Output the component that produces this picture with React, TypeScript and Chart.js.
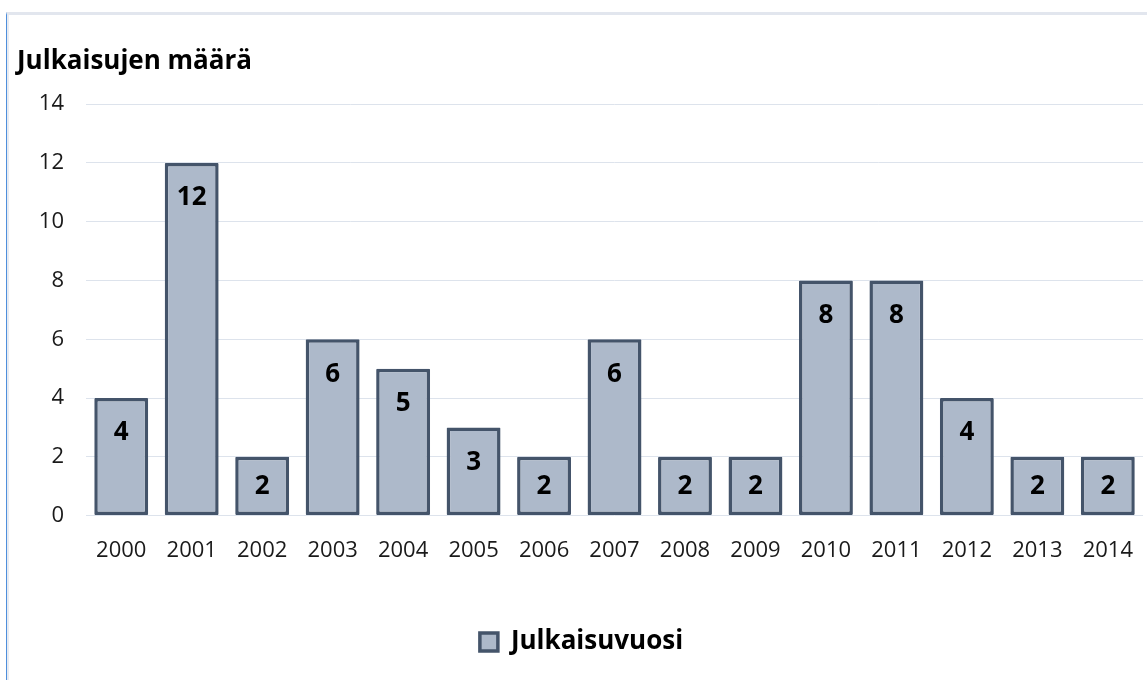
import React, { useEffect, useRef } from "react";
import { Chart, registerables } from "chart.js";

Chart.register(...registerables);

const years: string[] = ["2000", "2001", "2002", "2003", "2004", "2005", "2006", "2007", "2008", "2009", "2010", "2011", "2012", "2013", "2014"];
const publications: number[] = [4, 12, 2, 6, 5, 3, 2, 6, 2, 2, 8, 8, 4, 2, 2];
const yMin = 0;
const yMax = 14;
const yStep = 2;
const seriesName = "Julkaisuvuosi";
const chartTitle = "Julkaisujen määrä";

const FONT = "'Open Sans', 'Noto Sans', sans-serif";

const labelPlugin = {
  id: "insideEndLabels",
  afterDatasetsDraw(chart: any) {
    const ctx = chart.ctx;
    const meta = chart.getDatasetMeta(0);
    const data = chart.data.datasets[0].data as number[];
    ctx.save();
    ctx.font = `bold 26px ${FONT}`;
    ctx.fillStyle = "#000000";
    ctx.textAlign = "center";
    ctx.textBaseline = "middle";
    meta.data.forEach((el: any, i: number) => {
      const h = el.base - el.y;
      const cy = el.y + Math.min(34, h / 2);
      ctx.fillText(String(data[i]), el.x, cy + 1);
    });
    ctx.restore();
  },
};

export default function App() {
  const ref = useRef<HTMLCanvasElement | null>(null);

  useEffect(() => {
    if (!ref.current) return;
    const chart = new Chart(ref.current, {
      type: "bar",
      data: {
        labels: years,
        datasets: [
          {
            label: seriesName,
            data: publications,
            backgroundColor: "#ADB9CA",
            borderColor: "#44546A",
            borderWidth: 3.5,
            borderSkipped: false,
            borderRadius: 1,
            categoryPercentage: 1,
            barPercentage: 0.765,
          },
        ],
      },
      options: {
        animation: false,
        responsive: false,
        devicePixelRatio: 1,
        layout: { padding: { top: 15, left: 17, right: 1, bottom: 15 } },
        plugins: {
          title: {
            display: true,
            text: chartTitle,
            align: "start",
            color: "#000000",
            font: { family: FONT, size: 26, weight: "bold" },
            padding: { top: 31, bottom: 27 },
          },
          legend: {
            display: true,
            position: "bottom",
            labels: {
              color: "#000000",
              boxWidth: 18,
              boxHeight: 18,
              padding: 51,
              font: { family: FONT, size: 26, weight: "bold" },
            },
          },
          tooltip: { enabled: false },
        },
        scales: {
          x: {
            grid: { display: false },
            border: { display: false },
            ticks: {
              color: "#1a1a1a",
              font: { family: FONT, size: 22 },
              padding: 14,
              maxRotation: 0,
              autoSkip: false,
            },
          },
          y: {
            min: yMin,
            max: yMax,
            grid: { color: "#dde3ec", lineWidth: 1, drawTicks: false },
            border: { display: false },
            ticks: {
              stepSize: yStep,
              color: "#1a1a1a",
              font: { family: FONT, size: 22 },
              padding: 22,
            },
            afterFit(scale: any) {
              scale.width = 69;
            },
          },
        },
      },
      plugins: [labelPlugin],
    });
    return () => chart.destroy();
  }, []);

  return (
    <div style={{ position: "absolute", left: 0, top: 0, width: 1147, height: 680, background: "#ffffff", overflow: "hidden" }}>
      <div
        style={{
          position: "absolute",
          left: 6,
          top: 12,
          right: 0,
          bottom: 0,
          borderLeft: "1px solid #4f8fdc",
          borderTop: "3px solid #e2e6ee",
          boxShadow: "inset 2px 0 0 #e8ebf1",
        }}
      />
      <canvas ref={ref} width={1147} height={680} style={{ position: "absolute", left: 0, top: 0, width: 1147, height: 680 }} />
    </div>
  );
}
